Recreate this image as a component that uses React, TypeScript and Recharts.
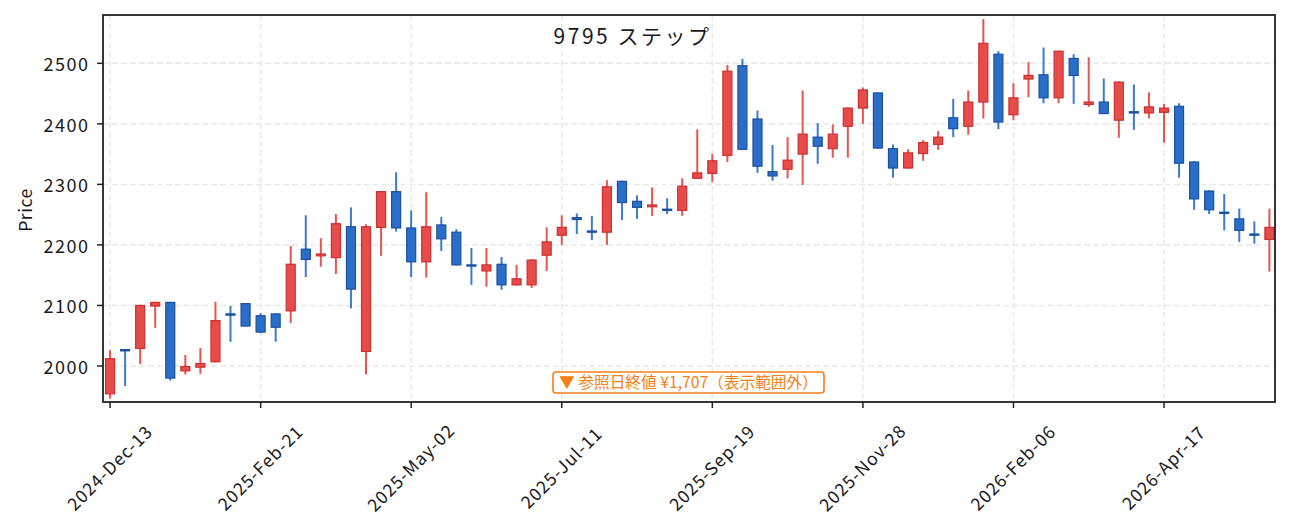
import React from "react";
import { ComposedChart, Bar, XAxis, YAxis, CartesianGrid } from "recharts";

const opens = [1954, 2027, 2029, 2099, 2105, 1992, 1998, 2007, 2086, 2103, 2083, 2086, 2091, 2193, 2182, 2179, 2230, 2024, 2229, 2288, 2228, 2172, 2233, 2221, 2167, 2157, 2168, 2134, 2134, 2183, 2216, 2245, 2223, 2221, 2305, 2272, 2263, 2259, 2257, 2310, 2318, 2348, 2496, 2408, 2321, 2325, 2350, 2378, 2359, 2396, 2426, 2451, 2359, 2327, 2351, 2366, 2410, 2396, 2436, 2515, 2415, 2474, 2481, 2443, 2508, 2432, 2436, 2406, 2420, 2418, 2419, 2429, 2337, 2289, 2254, 2243, 2218, 2209];
const highs = [2026, 2028, 2101, 2106, 2106, 2018, 2030, 2106, 2099, 2104, 2087, 2087, 2198, 2249, 2211, 2251, 2262, 2234, 2289, 2320, 2257, 2287, 2246, 2226, 2195, 2195, 2180, 2167, 2176, 2229, 2249, 2252, 2248, 2307, 2306, 2282, 2295, 2277, 2310, 2391, 2350, 2497, 2507, 2422, 2365, 2378, 2455, 2401, 2399, 2427, 2460, 2452, 2366, 2358, 2373, 2388, 2441, 2455, 2573, 2520, 2467, 2502, 2526, 2521, 2515, 2510, 2475, 2470, 2465, 2452, 2433, 2434, 2338, 2290, 2284, 2260, 2239, 2260];
const lows = [1946, 1967, 2003, 2063, 1976, 1986, 1987, 2006, 2040, 2065, 2054, 2040, 2071, 2147, 2164, 2152, 2095, 1986, 2182, 2222, 2147, 2146, 2190, 2166, 2134, 2131, 2126, 2133, 2129, 2157, 2200, 2218, 2208, 2200, 2241, 2243, 2248, 2251, 2248, 2309, 2304, 2337, 2357, 2319, 2306, 2310, 2299, 2334, 2344, 2344, 2400, 2359, 2311, 2326, 2339, 2357, 2378, 2382, 2409, 2391, 2406, 2444, 2434, 2434, 2433, 2428, 2416, 2377, 2390, 2409, 2369, 2311, 2258, 2251, 2224, 2205, 2202, 2156];
const closes = [2012, 2025, 2100, 2105, 1980, 1999, 2004, 2075, 2084, 2066, 2056, 2064, 2168, 2176, 2185, 2235, 2127, 2230, 2288, 2228, 2172, 2230, 2210, 2167, 2165, 2167, 2134, 2144, 2175, 2205, 2229, 2242, 2221, 2296, 2270, 2262, 2266, 2257, 2297, 2319, 2339, 2487, 2358, 2330, 2314, 2340, 2383, 2363, 2383, 2426, 2456, 2360, 2327, 2352, 2369, 2378, 2392, 2436, 2533, 2403, 2443, 2480, 2443, 2520, 2480, 2436, 2417, 2469, 2418, 2428, 2426, 2335, 2276, 2258, 2252, 2224, 2216, 2229];

const tickIndex = [0, 10, 20, 30, 40, 50, 60, 70];
const tickLabels = ["2024-Dec-13", "2025-Feb-21", "2025-May-02", "2025-Jul-11", "2025-Sep-19", "2025-Nov-28", "2026-Feb-06", "2026-Apr-17"];
const priceTicks = [2000, 2100, 2200, 2300, 2400, 2500];

const data = opens.map((o, i) => ({ i, o, h: highs[i], l: lows[i], c: closes[i] }));

const FONT = "'Noto Sans CJK JP', sans-serif";
const UP_FILL = "#e84c4a";
const UP_EDGE = "#cc3030";
const UP_WICK = "#e85450";
const DN_FILL = "#2b6ec9";
const DN_EDGE = "#1c4f9e";
const DN_WICK = "#3a7bd0";
const ORANGE = "#f57f17";

const Candle = (props: any) => {
  const { x, y, width, height, payload } = props;
  if (!payload || height == null) return null;
  const { o, h, l, c } = payload;
  const k = height / (h - l);
  const yOf = (v: number) => y + (h - v) * k;
  const cx = x + width / 2;
  const up = c >= o;
  const top = yOf(Math.max(o, c));
  const bot = yOf(Math.min(o, c));
  const bh = Math.max(bot - top, 1);
  return (
    <g>
      <line x1={cx} x2={cx} y1={y} y2={y + height} stroke={up ? UP_WICK : DN_WICK} strokeWidth={2} />
      <rect x={x} y={top} width={width} height={bh} fill={up ? UP_FILL : DN_FILL} stroke={up ? UP_EDGE : DN_EDGE} strokeWidth={1.2} />
    </g>
  );
};

const XTick = (props: any) => {
  const { x, payload } = props;
  const idx = tickIndex.indexOf(payload.value);
  const label = idx >= 0 ? tickLabels[idx] : "";
  const cx = x - 1;
  const cy = 467;
  return (
    <text x={cx} y={cy} textAnchor="middle" dominantBaseline="central" fontFamily={FONT} fontSize={17.5} letterSpacing={1} fill="#1a1a1a" transform={`rotate(-45 ${cx} ${cy})`}>
      {label}
    </text>
  );
};

const YTick = (props: any) => {
  const { x, y, payload } = props;
  return (
    <text x={x} y={y} textAnchor="end" dominantBaseline="central" fontFamily={FONT} fontSize={18} letterSpacing={1.5} fill="#1a1a1a">
      {payload.value}
    </text>
  );
};

export default function App() {
  return (
    <div style={{ position: "absolute", left: 0, top: 0, width: 1289, height: 531, background: "#fff" }}>
      <ComposedChart width={1289} height={531} data={data} margin={{ top: 15, right: 14, bottom: 0, left: 0 }}>
        <CartesianGrid stroke="#e9e9e9" strokeWidth={1.5} strokeDasharray="6 3" />
        <XAxis
          dataKey="i"
          type="number"
          domain={[-0.47, 77.37]}
          allowDataOverflow
          ticks={tickIndex}
          interval={0}
          height={129}
          axisLine={false}
          tickLine={{ stroke: "#222", strokeWidth: 1.5 }}
          tickSize={6}
          tick={<XTick />}
        />
        <YAxis
          type="number"
          domain={[1940.5, 2579.8]}
          allowDataOverflow
          ticks={priceTicks}
          interval={0}
          width={103}
          axisLine={false}
          tickLine={{ stroke: "#222", strokeWidth: 1.5 }}
          tickSize={6}
          tickMargin={7.5}
          tick={<YTick />}
        />
        <Bar dataKey={(d: any) => [d.l, d.h]} barSize={9} shape={<Candle />} isAnimationActive={false} />
      </ComposedChart>
      <svg width={1289} height={531} style={{ position: "absolute", left: 0, top: 0, pointerEvents: "none" }}>
        <rect x={103} y={15} width={1172} height={387} fill="none" stroke="#222" strokeWidth={1.8} />
        <text x={632.5} y={44} textAnchor="middle" fontFamily={FONT} fontSize={21} letterSpacing={2.5} fill="#1a1a1a">9795 ステップ</text>
        <text x={24} y={210} textAnchor="middle" dominantBaseline="central" fontFamily={FONT} fontSize={17.5} letterSpacing={0.5} fill="#1a1a1a" transform="rotate(-90 24 210)">Price</text>
        <rect x={553} y={372} width={271} height={21} rx={3} fill="#fff" stroke={ORANGE} strokeWidth={1.6} />
        <text x={688.5} y={388} textAnchor="middle" fontFamily={FONT} fontSize={15.7} fill={ORANGE}>▼ 参照日終値 ¥1,707（表示範囲外）</text>
      </svg>
    </div>
  );
}
